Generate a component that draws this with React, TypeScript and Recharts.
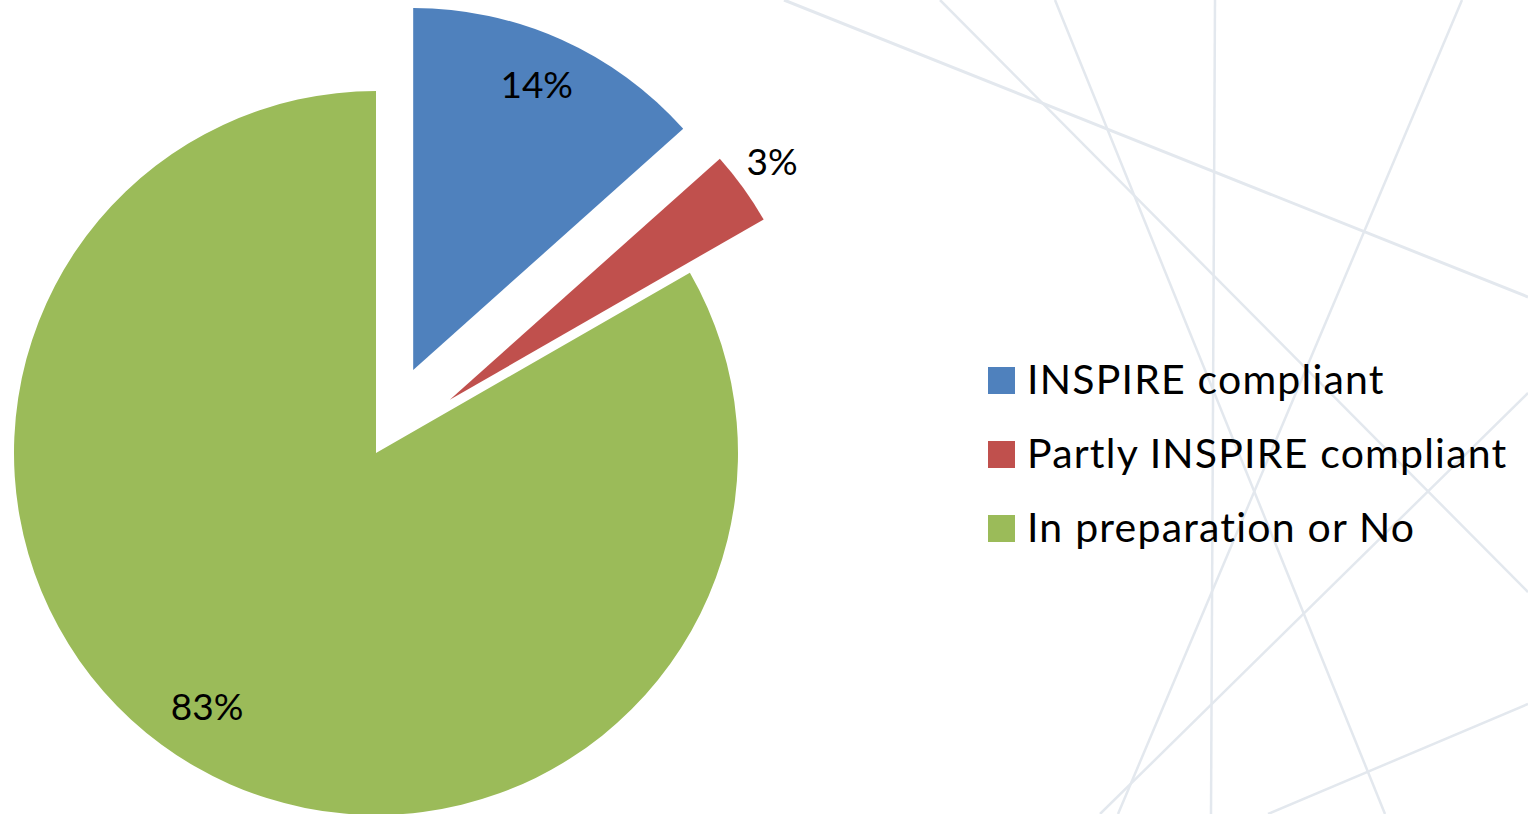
import React from 'react';
import { PieChart, Pie, Cell, Legend } from 'recharts';

// ---- data ----
const categories = ['INSPIRE compliant', 'Partly INSPIRE compliant', 'In preparation or No'];
const shares = [13.4, 3.3, 83.3];
const percentLabels = ['14%', '3%', '83%'];

// ---- styling ----
const colors = ['#4F81BD', '#C0504D', '#9BBB59'];
const explodeOffsets = [91, 91, 0];
const labelRadiusFactors = [0.862, 1.109, 0.84];
const labelAngleShifts = [0.8, 0.8, -3.7];

// decorative background strokes (not data)
const backgroundLines = [
  [784, 0, 1528, 297],
  [940, 0, 1528, 592],
  [1055, 0, 1385, 814],
  [1215, 0, 1211, 814],
  [1462, 0, 1118, 814],
  [1100, 814, 1528, 393],
  [1268, 814, 1528, 704],
];

const W = 1528;
const H = 814;
const CX = 376;
const CY = 453;
const R = 362;
const FONT = 'Lato, "Open Sans", sans-serif';

const pieData = categories.map((name, i) => ({ name, value: shares[i] }));
const total = shares.reduce((a, b) => a + b, 0);

// centres of each (exploded) pie copy, moved along the slice bisector
const centers = shares.map((_, i) => {
  const before = shares.slice(0, i).reduce((a, b) => a + b, 0);
  const mid = ((before + shares[i] / 2) / total) * 2 * Math.PI; // clockwise from 12 o'clock
  return {
    x: CX + Math.sin(mid) * explodeOffsets[i],
    y: CY - Math.cos(mid) * explodeOffsets[i],
  };
});

const RADIAN = Math.PI / 180;

const makeLabel = (k: number) => (props: any) => {
  const { cx, cy, midAngle, outerRadius, index } = props;
  if (index !== k) return null;
  const ang = (midAngle + labelAngleShifts[k]) * RADIAN;
  const r = outerRadius * labelRadiusFactors[k];
  const x = cx + r * Math.cos(ang);
  const y = cy - r * Math.sin(ang);
  return (
    <text
      x={x}
      y={y}
      textAnchor="middle"
      dominantBaseline="central"
      fontFamily={FONT}
      fontSize={37}
      fill="#000"
    >
      {percentLabels[k]}
    </text>
  );
};

const renderLegend = () => (
  <svg width={548} height={200} style={{ display: 'block', overflow: 'visible' }}>
    {categories.map((c, i) => (
      <g key={c}>
        <rect x={8} y={12 + i * 74} width={27} height={27} fill={colors[i]} />
        <text
          x={47}
          y={39 + i * 74}
          fontFamily={FONT}
          fontSize={41}
          letterSpacing={1.2}
          style={{ fontVariantLigatures: 'none' }}
          fill="#000"
        >
          {c}
        </text>
      </g>
    ))}
  </svg>
);

export default function App() {
  return (
    <div style={{ position: 'absolute', left: 0, top: 0, width: W, height: H, overflow: 'hidden', background: '#fff' }}>
      <svg width={W} height={H} style={{ position: 'absolute', left: 0, top: 0 }}>
        {backgroundLines.map((l, i) => (
          <line
            key={i}
            x1={l[0]}
            y1={l[1]}
            x2={l[2]}
            y2={l[3]}
            stroke="#e3e8ee"
            strokeWidth={i === 0 ? 3 : 2.5}
          />
        ))}
      </svg>
      <div style={{ position: 'absolute', left: 0, top: 0 }}>
        <PieChart width={W} height={H} margin={{ top: 0, right: 0, bottom: 0, left: 0 }}>
          {categories.map((_, k) => (
            <Pie
              key={k}
              data={pieData}
              dataKey="value"
              nameKey="name"
              cx={centers[k].x}
              cy={centers[k].y}
              outerRadius={R}
              startAngle={90}
              endAngle={-270}
              stroke="none"
              isAnimationActive={false}
              labelLine={false}
              label={makeLabel(k)}
            >
              {pieData.map((d, i) => (
                <Cell key={d.name} fill={i === k ? colors[i] : 'transparent'} stroke="none" />
              ))}
            </Pie>
          ))}
          <Legend
            layout="vertical"
            align="right"
            verticalAlign="top"
            content={renderLegend}
            wrapperStyle={{ left: 980, top: 355, width: 548, height: 200 }}
          />
        </PieChart>
      </div>
    </div>
  );
}
